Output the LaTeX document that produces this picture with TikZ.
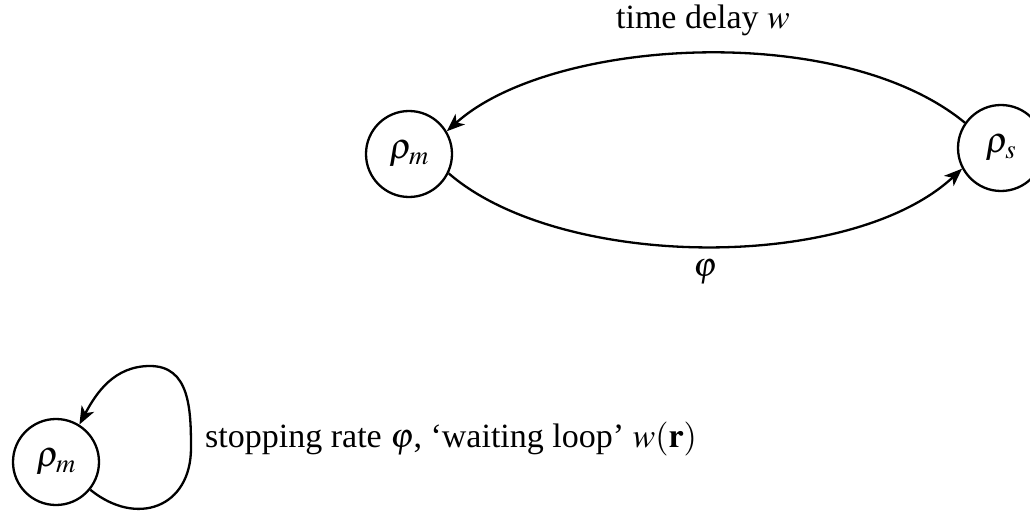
\documentclass[tikz,border=0pt]{standalone}
\usepackage{mathptmx}
\usepackage[no-math]{fontspec}
\setmainfont{Liberation Serif}
\usetikzlibrary{arrows.meta}
\begin{document}
\begin{tikzpicture}[x=1pt,y=1pt,
  state/.style={draw,circle,line width=2.3pt,minimum size=86pt,inner sep=0pt,font=\fontsize{36}{40}\selectfont},
  conn/.style={line width=2.3pt,-{Stealth[length=18pt,width=14pt,inset=5pt]}},
  lbl/.style={inner sep=0pt,font=\fontsize{34}{40}\selectfont}]
\useasboundingbox (0,0) rectangle (1030,523);
\node[state] (m) at (409,369) {$\rho_m$};
\node[state] (s) at (1001,375) {$\rho_s$};
\node[state] (b) at (56,61) {$\rho_m$};
\draw[conn] (s.145) .. controls (840,503) and (550,485) .. (m.31);
\draw[conn] (m.-26) .. controls (560,253) and (850,250) .. (s.208);
\node[lbl,anchor=base] (tl) at (703,494) {time delay $w$};
\node[lbl] (pl) at (705,251) {$\varphi$};
\coordinate (lb) at (191,75);
\coordinate (lt) at (150,157);
\draw[conn] (b.-39) to[out=-39,in=-90,looseness=1.4] (lb) to[out=90,in=0,looseness=1.1] (lt) to[out=180,in=62] (b.58);
\node[lbl,anchor=base west] (sl) at (205,76) {stopping rate $\varphi$, `waiting loop' $w(\mathbf{r})$};
\end{tikzpicture}
\end{document}
